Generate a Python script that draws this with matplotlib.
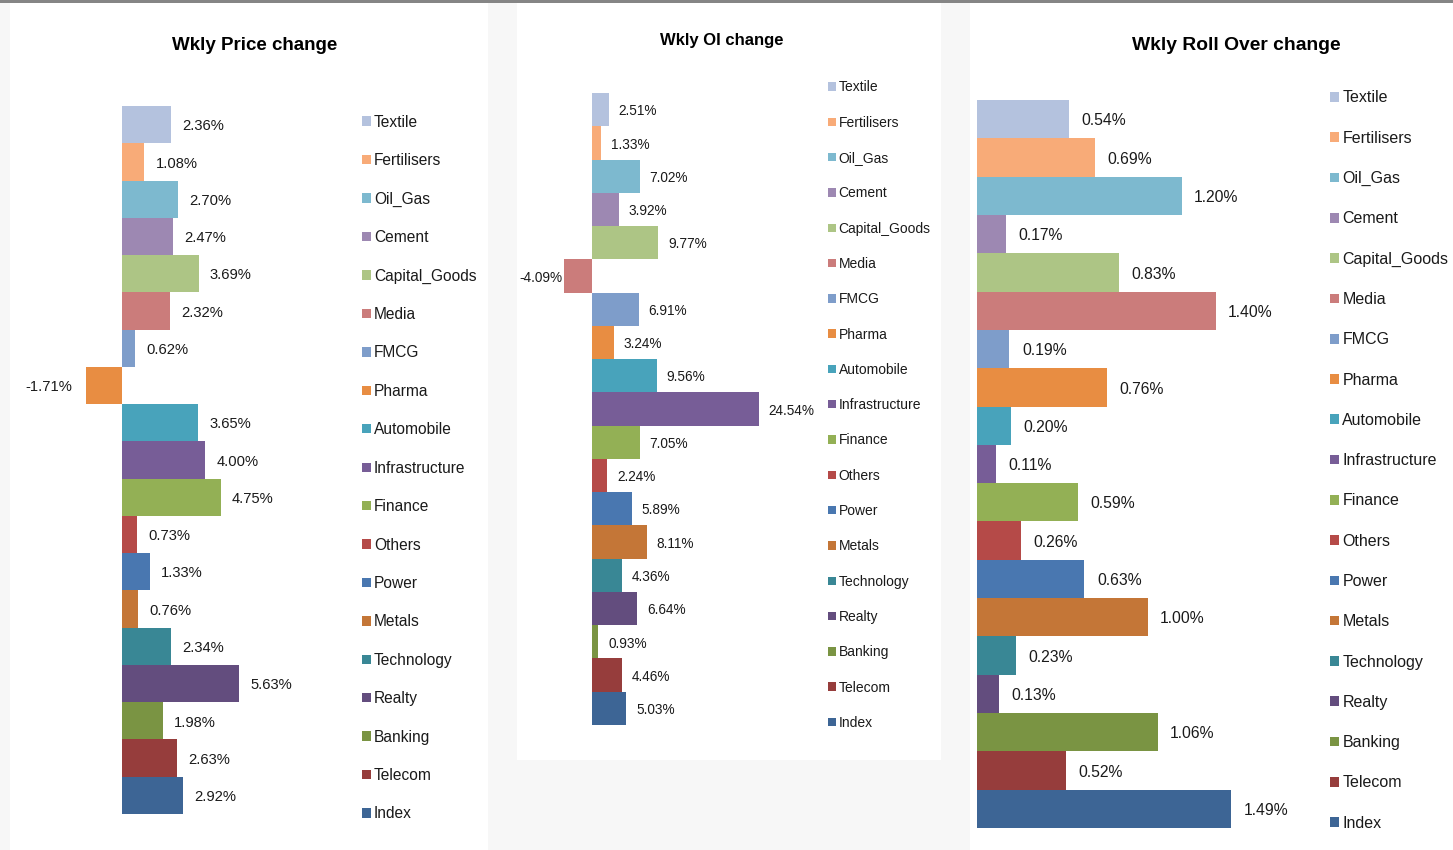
import numpy as np
import matplotlib.pyplot as plt
from matplotlib.patches import Rectangle

plt.rcParams['font.family'] = ['Liberation Sans', 'DejaVu Sans']

sectors = ['Textile', 'Fertilisers', 'Oil_Gas', 'Cement', 'Capital_Goods', 'Media',
           'FMCG', 'Pharma', 'Automobile', 'Infrastructure', 'Finance', 'Others',
           'Power', 'Metals', 'Technology', 'Realty', 'Banking', 'Telecom', 'Index']

price_chg = [2.36, 1.08, 2.70, 2.47, 3.69, 2.32, 0.62, -1.71, 3.65, 4.00, 4.75,
             0.73, 1.33, 0.76, 2.34, 5.63, 1.98, 2.63, 2.92]
oi_chg = [2.51, 1.33, 7.02, 3.92, 9.77, -4.09, 6.91, 3.24, 9.56, 24.54, 7.05,
          2.24, 5.89, 8.11, 4.36, 6.64, 0.93, 4.46, 5.03]
roll_chg = [0.54, 0.69, 1.20, 0.17, 0.83, 1.40, 0.19, 0.76, 0.20, 0.11, 0.59,
            0.26, 0.63, 1.00, 0.23, 0.13, 1.06, 0.52, 1.49]

colors = ['#b4c2de', '#f8ab78', '#7db9cf', '#9d88b2', '#adc585', '#cb7c7b',
          '#7e9dca', '#e88d42', '#48a3bb', '#775d97', '#93b055', '#b54a48',
          '#4977b0', '#c47637', '#398795', '#634d7e', '#7a9443', '#963d3c',
          '#3d6595']

W, H = 1453, 850
fig = plt.figure(figsize=(W / 100, H / 100), dpi=100)
fig.patch.set_facecolor('#f7f7f7')


def rect(l, t, r, b):
    return [l / W, 1 - b / H, (r - l) / W, (b - t) / H]


# panel backgrounds and top band
for l, t, r, b in [(10, 3, 488, 850), (517, 3, 941, 760), (970, 3, 1453, 850)]:
    fig.patches.append(Rectangle((l / W, 1 - b / H), (r - l) / W, (b - t) / H,
                                 transform=fig.transFigure, facecolor='white',
                                 edgecolor='none', zorder=-5))
fig.patches.append(Rectangle((0, 1 - 3 / H), 1, 3 / H, transform=fig.transFigure,
                             facecolor='#858585', edgecolor='none', zorder=-5))

panels = [
    dict(vals=price_chg, title='Wkly Price change', tx=255, ty=45, tfs=13.5,
         box=(40, 106, 330, 814), zero=122, scale=20.8, lfs=10.6, pad=8, npad=10,
         gx=362, gy=120, gsp=38.2, gfs=11.2),
    dict(vals=oi_chg, title='Wkly OI change', tx=722, ty=41, tfs=12,
         box=(520, 93, 820, 725), zero=592, scale=6.8, lfs=9.8, pad=7, npad=1,
         gx=828, gy=85, gsp=34.5, gfs=10.0),
    dict(vals=roll_chg, title='Wkly Roll Over change', tx=1236, ty=45, tfs=13.9,
         box=(972, 100, 1310, 828), zero=977, scale=170.5, lfs=11.3, pad=9, npad=9,
         gx=1330, gy=96, gsp=40.45, gfs=11.5),
]

for p in panels:
    l, t, r, b = p['box']
    ax = fig.add_axes(rect(l, t, r, b))
    ax.set_facecolor('none')
    ypos = np.arange(len(sectors))
    bars = ax.barh(ypos, p['vals'], height=1.0, color=colors)
    for patch, name in zip(bars.patches, sectors):
        patch.set_label(name)
    ax.set_ylim(len(sectors) - 0.5, -0.5)
    ax.set_xlim((l - p['zero']) / p['scale'], (r - p['zero']) / p['scale'])
    pos_lbl = ['{:.2f}%'.format(v) if v >= 0 else '' for v in p['vals']]
    neg_lbl = ['{:.2f}%'.format(v) if v < 0 else '' for v in p['vals']]
    for lbls, pad in [(pos_lbl, p['pad']), (neg_lbl, p['npad'])]:
        for txt in ax.bar_label(bars, labels=lbls, padding=pad,
                                fontsize=p['lfs'], color='#1a1a1a'):
            # nudge slightly down so the digits sit centred on the bar
            x0, y0 = txt.xyann
            txt.xyann = (x0, y0 - 1.2)
    ax.axis('off')

    fig.text(p['tx'] / W, 1 - p['ty'] / H, p['title'], ha='center', va='center',
             fontsize=p['tfs'], fontweight='bold', color='black')

    fpx = p['gfs'] * 100 / 72
    th = 0.95 * fpx
    leg = ax.legend(handles=bars.patches, loc='upper left',
                    bbox_to_anchor=(p['gx'] / W, 1 - (p['gy'] + 2 - th / 2) / H),
                    bbox_transform=fig.transFigure, frameon=False,
                    fontsize=p['gfs'], labelspacing=(p['gsp'] - th) / fpx,
                    handlelength=0.55, handleheight=0.55, handletextpad=0.22,
                    borderpad=0, borderaxespad=0)
    for txt in leg.get_texts():
        txt.set_color('#1a1a1a')

fig.savefig('out.png', dpi=100, facecolor=fig.get_facecolor())
